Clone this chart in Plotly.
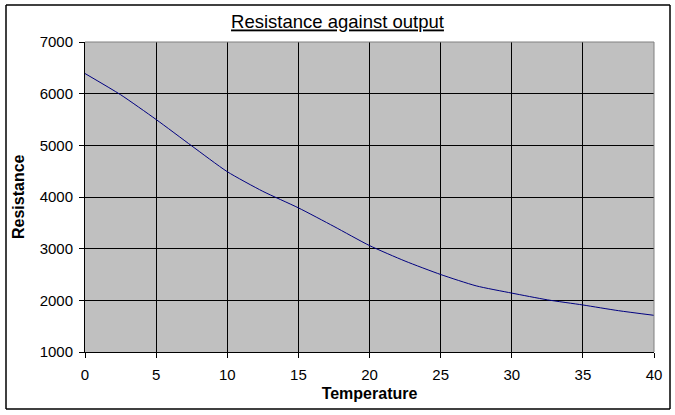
import plotly.graph_objects as go

# values
temperature = [0, 2.5, 5, 7.5, 10, 12.5, 15, 17.5, 20, 22.5, 25, 27.5, 30, 32.5, 35, 37.5, 40]
resistance = [6390, 5980, 5500, 4990, 4490, 4110, 3790, 3430, 3060, 2760, 2500, 2280, 2140, 2010, 1910, 1800, 1710]

x_ticks = [0, 5, 10, 15, 20, 25, 30, 35, 40]
y_ticks = [1000, 2000, 3000, 4000, 5000, 6000, 7000]

FONT = "Liberation Sans, Arial, sans-serif"

fig = go.Figure()
fig.add_trace(
    go.Scatter(
        x=temperature,
        y=resistance,
        mode="lines",
        line=dict(color="#000080", width=1, shape="spline", smoothing=0.6),
        showlegend=False,
    )
)

fig.update_layout(
    width=675,
    height=415,
    margin=dict(l=85, r=21, t=42, b=63),
    paper_bgcolor="white",
    plot_bgcolor="#C0C0C0",
    font=dict(family=FONT, size=15, color="black"),
    title=dict(
        text="<u>Resistance against output</u>",
        x=0.5,
        xanchor="center",
        y=1 - 22 / 415,
        yanchor="middle",
        font=dict(family=FONT, size=18.5, color="black"),
    ),
)

fig.update_xaxes(
    range=[0, 40],
    tickvals=x_ticks,
    ticks="outside",
    ticklen=5,
    tickcolor="black",
    ticklabelstandoff=4,
    showline=True,
    linecolor="black",
    linewidth=1,
    showgrid=True,
    gridcolor="black",
    gridwidth=1,
    zeroline=False,
    tickfont=dict(size=15),
    title=dict(text="<b>Temperature</b>", font=dict(size=16), standoff=5),
)
fig.update_yaxes(
    range=[1000, 7000],
    tickvals=y_ticks,
    ticks="outside",
    ticklen=5,
    tickcolor="black",
    ticklabelstandoff=3,
    showline=True,
    linecolor="black",
    linewidth=1,
    showgrid=True,
    gridcolor="black",
    gridwidth=1,
    zeroline=False,
    tickfont=dict(size=15),
)

# y axis title placed by hand, closer to the edge than plotly puts it
fig.add_annotation(
    text="<b>Resistance</b>",
    xref="paper", yref="paper",
    x=-67 / 569, y=0.5,
    xanchor="center", yanchor="middle",
    textangle=-90,
    showarrow=False,
    font=dict(family=FONT, size=16, color="black"),
)

# gray edge on the top and right of the plot area
fig.add_shape(type="line", xref="paper", yref="paper", x0=0, x1=1, y0=1, y1=1,
              line=dict(color="#808080", width=1), layer="above")
fig.add_shape(type="line", xref="paper", yref="paper", x0=1, x1=1, y0=0, y1=1,
              line=dict(color="#808080", width=1), layer="above")

# frame around the whole chart (plot area is 569 x 310 px)
fl, fr, fb, ft = -79 / 569, 585 / 569, -57 / 310, 347 / 310
for x0, x1, y0, y1 in [(fl, fr, ft, ft), (fl, fr, fb, fb), (fl, fl, fb, ft), (fr, fr, fb, ft)]:
    fig.add_shape(type="line", xref="paper", yref="paper", x0=x0, x1=x1, y0=y0, y1=y1,
                  line=dict(color="black", width=1.5), layer="above")

# drop the page's default body margin so the chart sits at the window corner
fig.write_html("out.html", config={"displayModeBar": False},
               post_script="document.body.style.margin='0';")
